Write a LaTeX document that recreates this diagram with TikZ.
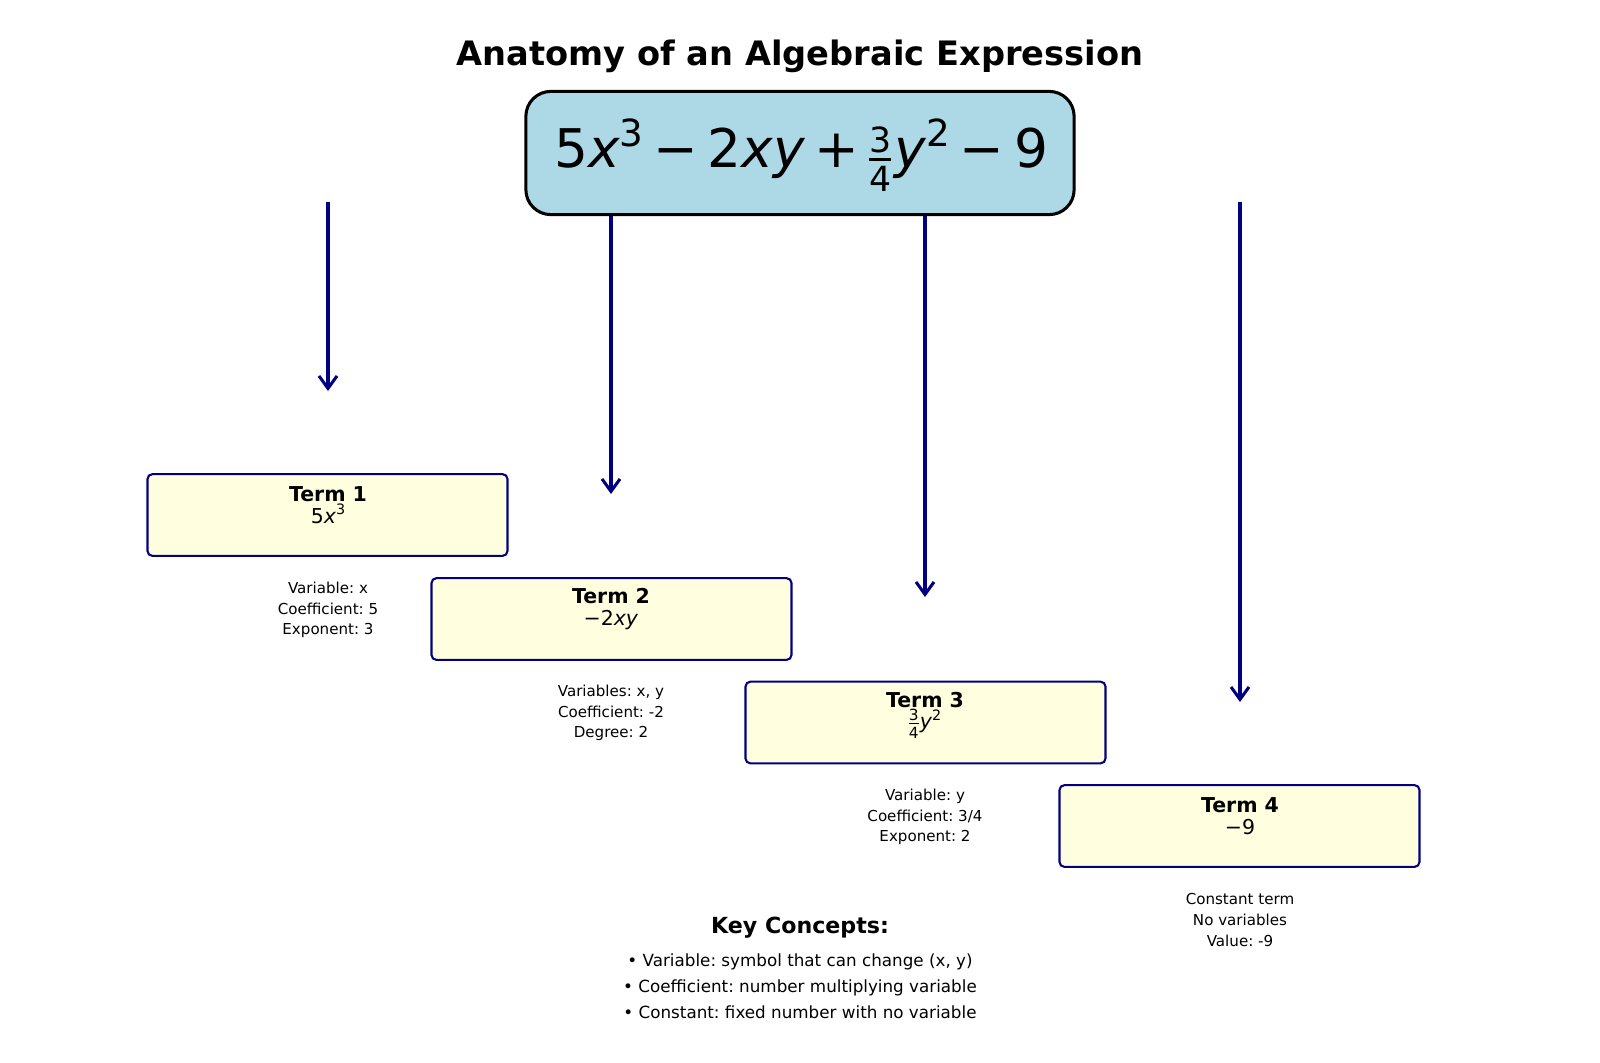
\documentclass[tikz,border=0pt]{standalone}
\usepackage{fontspec}
\setmainfont{DejaVu Sans}
\usepackage{graphicx}
\usetikzlibrary{arrows.meta}
\definecolor{navyline}{RGB}{0,0,128}
\definecolor{exprfill}{HTML}{ADD8E6}
\definecolor{termfill}{HTML}{FFFFE0}
\frenchspacing
% stacked fraction, raised power and operator spacing in the text font
\newcommand{\myfrac}[3][0.65]{\ensuremath{\vcenter{\hbox{\scalebox{#1}{\vbox{\offinterlineskip
    \halign{\hfil##\hfil\cr #2\cr\noalign{\kern0.16em\hrule height 0.07em\kern0.16em}#3\cr}}}}}}\kern0.06em}
\newcommand{\pw}[1]{\raisebox{0.4em}{\scalebox{0.7}{#1}}}
\newcommand{\op}[1]{\hspace{0.18em}#1\hspace{0.18em}}
\tikzset{
    % Box styles
    expr box/.style={rectangle, draw=black, line width=2.2pt, rounded corners=18pt,
                     fill=exprfill, minimum width=396pt, minimum height=89pt},
    term box/.style={rectangle, draw=navyline, line width=1.5pt, rounded corners=3.5pt,
                     fill=termfill, minimum width=260pt, minimum height=59pt},
    % Text styles
    title text/.style={font=\fontsize{24.3}{28}\selectfont\bfseries},
    expr text/.style={font=\fontsize{38.5}{44}\selectfont},
    term text/.style={align=center, font=\fontsize{14.8}{15.5}\selectfont},
    note/.style={align=center, font=\fontsize{10.9}{14.9}\selectfont},
    key head/.style={font=\fontsize{16}{18}\selectfont\bfseries},
    key list/.style={align=center, font=\fontsize{12.1}{18.7}\selectfont},
    % Arrow styles
    arrow/.style={-{Straight Barb[length=9pt, width=13pt]}, line width=2.2pt, navyline},
}

\begin{document}
\begin{tikzpicture}[x=0.01in, y=-0.01in]
    \useasboundingbox (0,0) rectangle (1600,1062);

    % Arrows (behind the expression box)
    \coordinate (top1) at (328,202);  \coordinate (tip1) at (328,391);
    \coordinate (top2) at (611,202);  \coordinate (tip2) at (611,494);
    \coordinate (top3) at (925,202);  \coordinate (tip3) at (925,597);
    \coordinate (top4) at (1240,202); \coordinate (tip4) at (1240,702);

    \draw[arrow] (top1) -- (tip1);
    \draw[arrow] (top2) -- (tip2);
    \draw[arrow] (top3) -- (tip3);
    \draw[arrow] (top4) -- (tip4);

    % Title and expression
    \node[title text] (title) at (800,56) {Anatomy of an Algebraic Expression};
    \node[expr box] (expr) at (800,153) {};
    \node[expr text] (exprtext) at (801,155)
        {5\textit{x}\pw{3}\op{−}2\textit{xy}\op{+}\myfrac{3}{4}\textit{y}\pw{2}\op{−}9};

    % Term 1
    \node[term box] (term1) at (327.5,515) {};
    \node[term text] (name1) at (328,505) {\textbf{Term 1}\\5\textit{x}\pw{3}};
    \node[note] (note1) at (328,610) {Variable: x\\Coefficient: 5\\Exponent: 3};

    % Term 2
    \node[term box] (term2) at (611.5,619) {};
    \node[term text] (name2) at (611,609) {\textbf{Term 2}\\−2\textit{xy}};
    \node[note] (note2) at (611,713) {Variables: x, y\\Coefficient: -2\\Degree: 2};

    % Term 3
    \node[term box] (term3) at (925.5,722.5) {};
    \node[term text] (name3) at (925,715) {\textbf{Term 3}\\\myfrac[0.75]{3}{4}\textit{y}\pw{2}};
    \node[note] (note3) at (925,817) {Variable: y\\Coefficient: 3/4\\Exponent: 2};

    % Term 4
    \node[term box] (term4) at (1239.5,826) {};
    \node[term text] (name4) at (1240,816) {\textbf{Term 4}\\−9};
    \node[note] (note4) at (1240,920) {Constant term\\No variables\\Value: -9};

    % Key concepts
    \node[key head] (keyhead) at (800,928) {Key Concepts:};
    \node[key list] (keylist) at (800,986)
        {• Variable: symbol that can change (x, y)\\
         • Coefficient: number multiplying variable\\
         • Constant: fixed number with no variable};
\end{tikzpicture}
\end{document}
